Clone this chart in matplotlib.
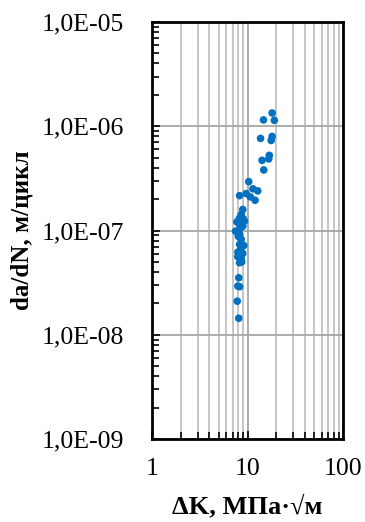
import matplotlib
matplotlib.use("Agg")
import matplotlib.pyplot as plt
from matplotlib.ticker import LogLocator, NullFormatter, FixedLocator

dK = [18.1, 14.7, 19.1, 13.7, 18.1, 17.7, 16.9, 16.7, 14.2, 14.8, 10.3, 11.4, 12.8,
      9.7, 8.26, 10.7, 12.0, 8.93, 8.6, 8.26, 7.74, 9.3, 8.93, 7.5, 8.26, 8.6, 8.26,
      9.15, 7.92, 8.93, 7.92, 8.6, 8.26, 8.1, 7.92, 8.26, 7.81, 8.1,
      8.4, 8.0, 8.5, 9.0, 8.2, 8.7]
dadN = [1.34e-6, 1.15e-6, 1.14e-6, 7.64e-7, 7.98e-7, 7.31e-7, 5.26e-7, 4.86e-7, 4.71e-7,
        3.81e-7, 2.94e-7, 2.51e-7, 2.40e-7, 2.26e-7, 2.16e-7, 2.10e-7, 1.95e-7, 1.59e-7,
        1.42e-7, 1.32e-7, 1.21e-7, 1.23e-7, 1.10e-7, 9.85e-8, 9.16e-8, 8.2e-8, 7.35e-8,
        7.18e-8, 6.2e-8, 6.03e-8, 5.6e-8, 5.36e-8, 4.91e-8, 3.52e-8, 2.93e-8, 2.89e-8,
        2.1e-8, 1.44e-8,
        1.05e-7, 8.8e-8, 6.6e-8, 1.3e-7, 1.15e-7, 5.0e-8]

x_ticks = [1, 10, 100]
x_ticklabels = ["1", "10", "100"]
y_ticks = [1e-9, 1e-8, 1e-7, 1e-6, 1e-5]
y_ticklabels = ["1,0E-09", "1,0E-08", "1,0E-07", "1,0E-06", "1,0E-05"]

plt.rcParams['font.family'] = ['Liberation Serif', 'DejaVu Serif']

fig = plt.figure(figsize=(3.65, 5.22), dpi=100)
ax = fig.add_axes([152/365, 1-439/522, (343-152)/365, (439-22)/522])
ax.set_xscale('log')
ax.set_yscale('log')
ax.set_xlim(1, 100)
ax.set_ylim(1e-9, 1e-5)

ax.grid(True, which='major', axis='both', color='#a6a6a6', lw=1.3, zorder=0)
ax.grid(True, which='minor', axis='x', color='#c0c0c0', lw=1.3, zorder=0)
ax.set_axisbelow(True)

ax.scatter(dK, dadN, s=30, color='#0070C0', edgecolors='none', zorder=3)

ax.xaxis.set_major_locator(FixedLocator(x_ticks))
ax.set_xticklabels(x_ticklabels)
ax.xaxis.set_minor_locator(LogLocator(base=10, subs=range(2, 10)))
ax.xaxis.set_minor_formatter(NullFormatter())
ax.yaxis.set_major_locator(FixedLocator(y_ticks))
ax.set_yticklabels(y_ticklabels)
ax.yaxis.set_minor_locator(LogLocator(base=10, subs=range(2, 10)))
ax.yaxis.set_minor_formatter(NullFormatter())

ax.tick_params(which='both', direction='in', top=False, right=False, color='black')
ax.tick_params(which='major', length=6, width=1.2, labelsize=18.5)
ax.tick_params(which='minor', length=5, width=1.2)
ax.tick_params(axis='y', which='major', pad=20)
ax.tick_params(axis='x', which='major', pad=14)

for s in ax.spines.values():
    s.set_linewidth(2)
    s.set_color('black')

ax.set_xlabel("ΔK, МПа·√м", fontsize=19, fontweight='bold', labelpad=10)
ax.set_ylabel("da/dN, м/цикл", fontsize=18, fontweight='bold', labelpad=6)

fig.savefig("out.png", dpi=100)
